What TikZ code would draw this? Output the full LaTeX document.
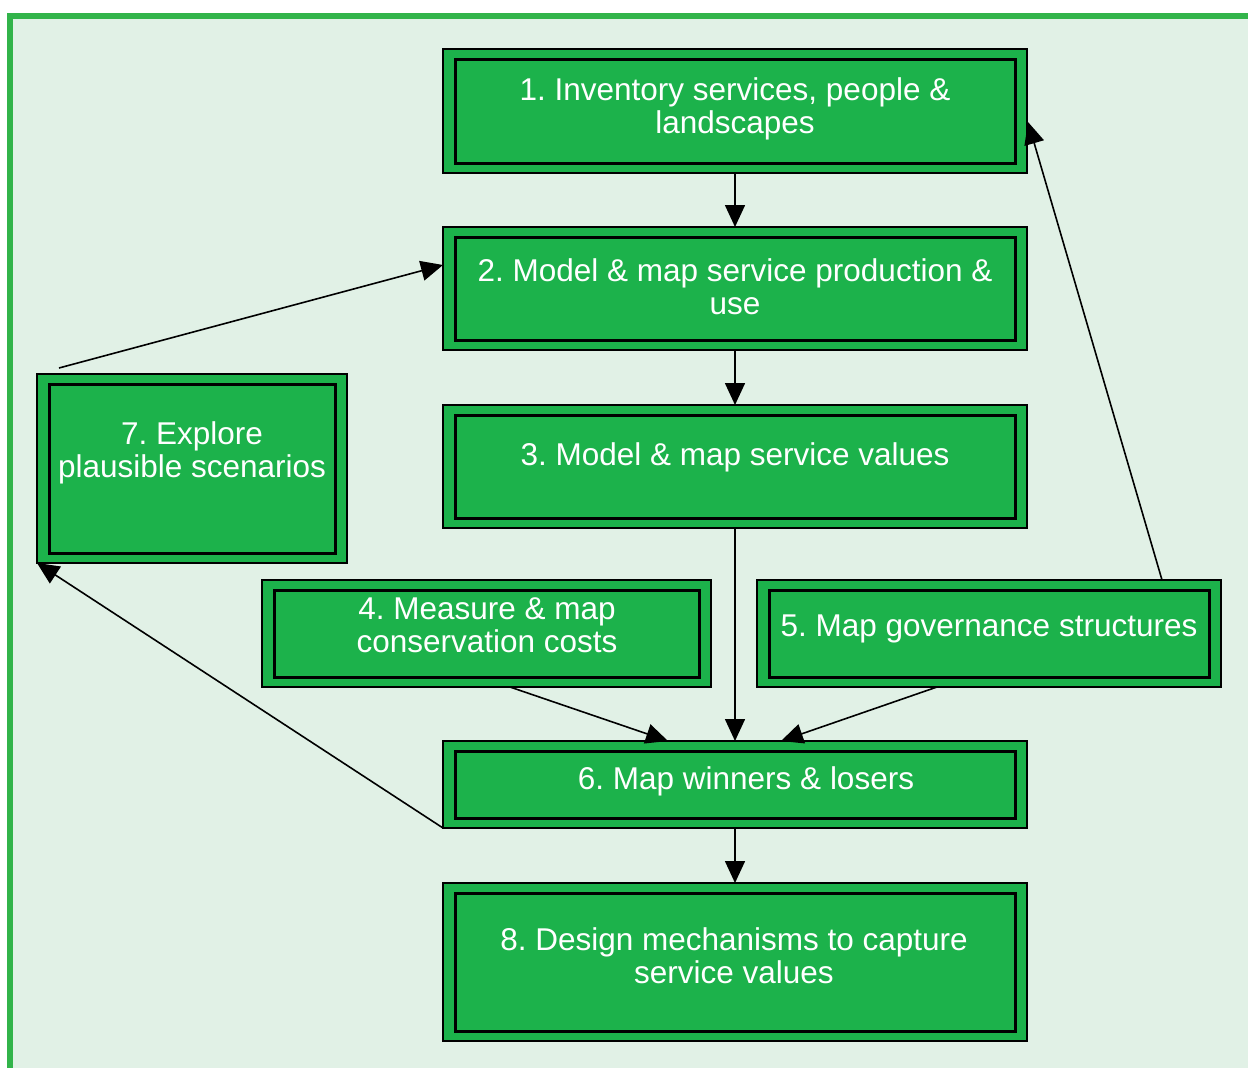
\documentclass[tikz,border=0pt]{standalone}
\usepackage{fontspec}
\setmainfont{Liberation Sans}
\usetikzlibrary{arrows.meta,calc}
\definecolor{bgcol}{RGB}{225,241,230}
\definecolor{framegreen}{RGB}{50,180,74}
\definecolor{boxgreen}{RGB}{28,178,75}
\frenchspacing
\newcommand\lines[1]{\begin{tabular}[t]{@{}c@{}}#1\end{tabular}}
\newcommand\stagebox[5]{%
  \node[outerbox, minimum width=#4pt, minimum height=#5pt] (#1) at (#2,#3) {};
  \draw[innerline] ($(#1.north west)+(12,10)$) rectangle ($(#1.south east)+(-12,-10)$);
}
\begin{document}
\begin{tikzpicture}[x=1pt,y=-1pt,
  outerbox/.style={draw=black, line width=1.5pt, fill=boxgreen, inner sep=0pt, outer sep=0pt},
  innerline/.style={draw=black, line width=3pt},
  txt/.style={text=white, inner sep=0pt, anchor=base, font=\fontsize{31.5}{33}\selectfont\frenchspacing},
  conn/.style={draw=black, line width=1.6pt, -{Triangle[length=22pt,width=20pt]}}]
\useasboundingbox (0,0) rectangle (1248,1068);
\fill[white] (0,0) rectangle (1248,1068);
\begin{scope}
  \clip (0,0) rectangle (1248,1068);
  \draw[framegreen, line width=6pt, fill=bgcol] (10,16) rectangle (1300,1120);
\end{scope}
% boxes
\stagebox{b1}{735}{111}{584}{124}
\stagebox{b2}{735}{288.5}{584}{123}
\stagebox{b3}{735}{466.5}{584}{123}
\stagebox{b7}{192}{468.5}{310}{189}
\stagebox{b4}{486.5}{633.5}{449}{107}
\stagebox{b5}{989}{633.5}{464}{107}
\stagebox{b6}{735}{784.5}{584}{87}
\stagebox{b8}{735}{962}{584}{158}
% texts
\node[txt] (t1) at (735,100) {\lines{1. Inventory services, people \&\\landscapes}};
\node[txt] (t2) at (735,281) {\lines{2. Model \& map service production \&\\use}};
\node[txt] (t3) at (735,465) {3. Model \& map service values};
\node[txt] (t7) at (192,444) {\lines{7. Explore\\plausible scenarios}};
\node[txt] (t4) at (487,619) {\lines{4. Measure \& map\\conservation costs}};
\node[txt] (t5) at (989,636) {5. Map governance structures};
\node[txt] (t6) at (746,789) {6. Map winners \& losers};
\node[txt] (t8) at (734,950) {\lines{8. Design mechanisms to capture\\service values}};
% connectors
\draw[conn] (b1.south) -- (b2.north);
\draw[conn] (b2.south) -- (b3.north);
\draw[conn] (b3.south) -- (b6.north);
\draw[conn] ($(b4.south west)+(248,0)$) -- ($(b6.north west)+(225,0)$);
\draw[conn] ($(b5.south west)+(180,0)$) -- ($(b6.north west)+(338,0)$);
\draw[conn] ($(b5.north west)+(405,0)$) -- ($(b1.north east)+(1,73)$);
\draw[conn] ($(b7.north west)+(22,-6)$) -- ($(b2.north west)+(0,38)$);
\draw[conn] (b6.south west) -- (b7.south west);
\draw[conn] (b6.south) -- (b8.north);
\end{tikzpicture}
\end{document}
